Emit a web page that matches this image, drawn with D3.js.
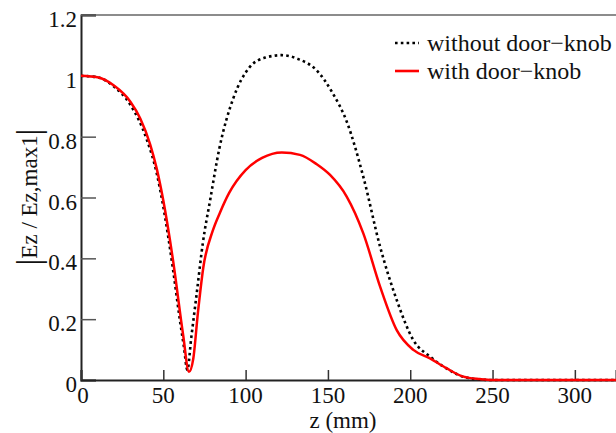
<!DOCTYPE html>
<html>
<head>
<meta charset="utf-8">
<script src="https://cdn.jsdelivr.net/npm/d3@7"></script>
<style>
  html, body { margin: 0; padding: 0; background: #fff; }
  svg { display: block; }
</style>
</head>
<body>
<svg id="chart"></svg>
<script>
// z positions (mm) and |Ez/Ez,max1|
const zWithout = [0, 10, 20, 30, 40, 46, 50, 56, 60, 62.5, 64.6, 67, 70.3, 74, 78.4, 84, 92.5, 102.7, 112, 122, 132, 143, 153, 161.4, 171.5, 181.7, 191.8, 201.9, 212, 222, 232, 242, 250, 280, 325];
const vWithout = [1.0, 0.995, 0.965, 0.905, 0.79, 0.68, 0.57, 0.36, 0.2, 0.11, 0.033, 0.14, 0.285, 0.45, 0.59, 0.76, 0.926, 1.03, 1.06, 1.068, 1.055, 1.019, 0.942, 0.85, 0.668, 0.438, 0.263, 0.131, 0.077, 0.038, 0.011, 0.002, 0, 0, 0];

const zWith = [0, 10, 20, 30, 36, 42, 46, 50, 56, 62, 65.6, 68.2, 71, 74.3, 80, 84.4, 90, 100, 110, 122, 133, 143, 151.3, 161.4, 171.5, 181.7, 191.8, 201.9, 212, 222.2, 232.3, 242.4, 250, 280, 325];
const vWith = [1.0, 0.995, 0.968, 0.915, 0.86, 0.775, 0.695, 0.59, 0.39, 0.15, 0.027, 0.07, 0.22, 0.37, 0.49, 0.55, 0.615, 0.69, 0.73, 0.748, 0.74, 0.71, 0.674, 0.603, 0.482, 0.307, 0.164, 0.099, 0.071, 0.038, 0.011, 0.003, 0, 0, 0];

const xTicks = [0, 50, 100, 150, 200, 250, 300];
const yTicks = [0, 0.2, 0.4, 0.6, 0.8, 1, 1.2];
const legendLabels = ["without door\u2212knob", "with door\u2212knob"];

const width = 616, height = 433;
const margin = { top: 15, right: 0, bottom: 53, left: 81 };
const font = "'Liberation Serif', 'Times New Roman', serif";

const svg = d3.select("#chart")
  .attr("width", width)
  .attr("height", height);

const x = d3.scaleLinear().domain([0, 325]).range([margin.left, width - margin.right]);
const y = d3.scaleLinear().domain([0, 1.2]).range([height - margin.bottom, margin.top]);

// top border
svg.append("line")
  .attr("x1", margin.left).attr("x2", width)
  .attr("y1", y(1.2)).attr("y2", y(1.2))
  .attr("stroke", "#666").attr("stroke-width", 1.5);

// y axis, ticks pointing inward
const yAxis = svg.append("g")
  .attr("transform", `translate(${margin.left},0)`)
  .call(d3.axisRight(y).tickValues(yTicks).tickSize(15).tickFormat(""));
yAxis.select(".domain").attr("stroke", "#222").attr("stroke-width", 2);
yAxis.selectAll(".tick line").attr("stroke", "#555").attr("stroke-width", 1.5);

yTicks.forEach(t => {
  svg.append("text")
    .attr("x", 77)
    .attr("y", y(t) + 12)
    .attr("text-anchor", "end")
    .attr("font-family", font)
    .attr("font-size", "23px")
    .attr("fill", "#111")
    .text(d3.format("~g")(t));
});

// x axis, ticks pointing up
const xAxis = svg.append("g")
  .attr("transform", `translate(0,${y(0)})`)
  .call(d3.axisTop(x).tickValues(xTicks).tickSize(10).tickFormat(""));
xAxis.select(".domain").attr("stroke", "#222").attr("stroke-width", 2);
xAxis.selectAll(".tick line").attr("stroke", "#333").attr("stroke-width", 1.5);

xTicks.forEach(t => {
  svg.append("text")
    .attr("x", x(t) + (t === 0 ? 2 : 0))
    .attr("y", y(0) + 23)
    .attr("text-anchor", "middle")
    .attr("font-family", font)
    .attr("font-size", "23px")
    .attr("fill", "#111")
    .text(t);
});

// axis titles
svg.append("text")
  .attr("x", 343)
  .attr("y", 428)
  .attr("text-anchor", "middle")
  .attr("font-family", font)
  .attr("font-size", "23px")
  .attr("fill", "#111")
  .text("z (mm)");

const yTitle = svg.append("text")
  .attr("transform", "translate(37,197) rotate(-90)")
  .attr("text-anchor", "middle")
  .attr("font-family", font)
  .attr("font-size", "23px")
  .attr("fill", "#111");
yTitle.append("tspan").attr("font-size", "34px").attr("dy", 3).text("|");
yTitle.append("tspan").attr("dy", -3).text("Ez / Ez,max1");
yTitle.append("tspan").attr("font-size", "34px").attr("dy", 3).text("|");

// curves
const line = d3.line()
  .x(d => x(d[0]))
  .y(d => y(d[1]))
  .curve(d3.curveMonotoneX);

svg.append("path")
  .datum(zWithout.map((z, i) => [z, vWithout[i]]))
  .attr("d", line)
  .attr("fill", "none")
  .attr("stroke", "#000")
  .attr("stroke-width", 2.6)
  .attr("stroke-dasharray", "2.6,3.2");

svg.append("path")
  .datum(zWith.map((z, i) => [z, vWith[i]]))
  .attr("d", line)
  .attr("fill", "none")
  .attr("stroke", "#ff0000")
  .attr("stroke-width", 2.5)
  .attr("stroke-linejoin", "round");

// legend
const legend = svg.append("g");
legendLabels.forEach((label, i) => {
  const ly = 43 + i * 28;
  legend.append("line")
    .attr("x1", 395).attr("x2", 419)
    .attr("y1", ly).attr("y2", ly)
    .attr("stroke", i === 0 ? "#000" : "#ff0000")
    .attr("stroke-width", 2.6)
    .attr("stroke-dasharray", i === 0 ? "2.6,3.2" : null);
  legend.append("text")
    .attr("x", 427)
    .attr("y", ly + 8)
    .attr("font-family", font)
    .attr("font-size", "24px")
    .attr("fill", "#111")
    .text(label);
});
</script>
</body>
</html>
